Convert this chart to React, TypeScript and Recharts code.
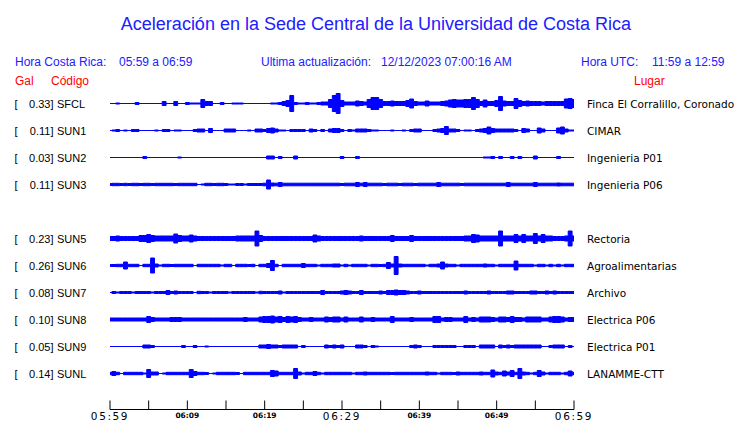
import { Area, ComposedChart, XAxis, YAxis } from "recharts";

// station list, top to bottom
const codes = ["SFCL", "SUN1", "SUN2", "SUN3", "SUN5", "SUN6", "SUN7", "SUN8", "SUN9", "SUNL"];
const peakGal = ["0.33", "0.11", "0.03", "0.11", "0.23", "0.26", "0.08", "0.10", "0.05", "0.14"];
const places = [
  "Finca El Corralillo, Coronado",
  "CIMAR",
  "Ingenieria P01",
  "Ingenieria P06",
  "Rectoria",
  "Agroalimentarias",
  "Archivo",
  "Electrica P06",
  "Electrica P01",
  "LANAMME-CTT",
];
// row slot of each trace (slot 4 is left empty)
const slots = [0, 1, 2, 3, 5, 6, 7, 8, 9, 10];

// envelope half-amplitude of each trace, one value every half minute from 05:59 to 06:59
const sfcl = [
  0, 0, 0.5, 0, 0, 0, 0, 1, 0, 0,
  0, 0, 0, 0, 2, 0, 0, 2, 0, 0,
  1, 0.5, 0.5, 0.5, 4, 2, 2, 0, 0, 1,
  0, 0, 0.5, 0.5, 0.5, 0, 0, 0, 0, 0,
  0, 0, 0.5, 0.5, 1, 2, 3, 8, 1, 0.5,
  0.5, 1, 0.5, 0.5, 1, 1.5, 1.5, 4, 8, 10,
  3, 1.5, 1.5, 1.5, 2.5, 2, 1.5, 4, 6, 6,
  4, 2, 2, 2.5, 2, 2, 2, 3, 4.5, 2,
  1.5, 1.5, 2.5, 1.5, 1.5, 1.5, 2, 2.5, 3.5, 4,
  3.5, 3.5, 4, 4, 6, 4, 2, 3.5, 2, 2,
  3, 7, 2.5, 2, 2, 5, 3, 2, 2.5, 2,
  2, 2, 1.5, 2, 2, 2, 2, 2, 4.5, 5,
  4,
];
const sun1 = [
  0, 0.5, 1, 0, 0.5, 0, 1, 1, 0, 0,
  0, 0, 0.5, 0, 1, 1, 0, 0.5, 0.5, 0,
  0, 0, 1, 1.5, 1.5, 0, 2, 0, 0, 0,
  1.5, 1.5, 1.5, 0, 0, 0, 0.5, 0, 1.5, 1.5,
  1, 2, 2.5, 1.5, 0.5, 0.5, 0, 1, 1, 1,
  1, 0, 1.5, 1, 0, 1, 0, 1.5, 2, 2,
  1, 0, 1, 0.5, 1.5, 1.5, 1.5, 1, 0.5, 0.5,
  0, 0, 0, 0.5, 0, 0, 0.5, 0, 1, 1.5,
  1.5, 0, 0, 0, 1, 1.5, 2, 4, 1.5, 1.5,
  1, 0, 0.5, 0.5, 0, 1, 1.5, 2, 3.5, 2,
  1.5, 1.5, 1.5, 1.5, 1.5, 1, 0, 2, 1.5, 0,
  0, 2.5, 1.5, 0, 0, 0, 2.5, 3.5, 1.5, 0.5,
  0.5,
];
const sun2 = [
  0, 0, 0, 0, 0, 0, 0, 0, 0, 1,
  0, 0, 0, 0, 0, 0, 0, 0, 0.5, 0,
  0, 0, 0, 0, 0, 0, 0, 0, 0, 0,
  0, 0, 0, 0, 0, 0, 0, 0, 0, 0,
  0, 1.5, 1.5, 0, 1, 0, 0, 0, 1.5, 0,
  0, 0, 0, 0, 0, 0, 0, 0, 0, 0,
  1, 0, 0, 0, 1, 0, 0, 0, 0, 0,
  0, 0, 0, 0, 0, 0, 0, 0, 0, 0,
  0, 0, 0, 0, 0, 0, 0, 0, 0, 0,
  0, 0, 0, 0, 0, 0, 0, 0.5, 0.5, 1,
  0, 1, 0, 0, 1, 0, 1, 0, 0, 0,
  1.5, 0, 0, 0, 0, 0, 1, 0, 0, 0,
  0,
];
const sun3 = [
  1, 1.2, 1.2, 1, 1.2, 1, 1.2, 1.2, 1, 1.2,
  1.2, 1, 1.2, 1.2, 1.2, 1.2, 1.2, 1, 1.2, 1.2,
  1.2, 1.2, 1.2, 0, 0.5, 1.2, 1.2, 1, 1.2, 1.2,
  1, 0.5, 0.5, 1, 1, 0.5, 1, 1, 1, 1,
  1.3, 4.5, 1.5, 1.3, 2, 1.3, 1.3, 1.3, 1.3, 1.3,
  1.3, 1.3, 1.3, 1.3, 1.3, 1.3, 1.3, 1.3, 1.3, 1.3,
  1, 1.3, 1.3, 1.3, 2, 1.3, 2, 1.3, 1.3, 1.3,
  1.3, 1, 1.3, 1.3, 1.3, 1, 1.3, 1.3, 1.3, 1,
  1.3, 1.3, 1.3, 1.3, 1.3, 2, 1.3, 1.3, 1.3, 1.3,
  1.3, 1, 1.3, 1.3, 1.3, 1.3, 1.3, 1.3, 1.3, 1.3,
  1.3, 1.3, 1.3, 2, 1.3, 1.3, 1.3, 1.3, 1.3, 1.3,
  2, 1.3, 1.3, 1.3, 1.3, 1.3, 1.5, 1.3, 1.3, 1.3,
  1.3,
];
const sun5 = [
  2, 2, 2.5, 2, 2, 2, 2, 2, 3, 3,
  4, 3, 2.5, 2.5, 2.5, 2.5, 2.5, 4.5, 3, 2.5,
  2.5, 3.5, 2.5, 2, 2, 2, 2, 2, 2, 2,
  2, 2, 2, 2.5, 2.5, 2.5, 2.5, 2.5, 7.5, 3,
  2, 2, 2, 2, 2, 2, 2, 2, 2, 2,
  2, 2, 2, 3.5, 2.5, 2, 2, 2, 2, 2,
  2, 2, 2, 2, 2, 2.5, 2, 2, 2, 2,
  2, 2, 2, 3, 2, 2, 2, 2, 3, 2,
  2, 2, 2, 2, 2, 2, 2, 2, 2, 2,
  2, 2, 2.5, 2.5, 4, 3.5, 2.5, 2.5, 2.5, 2.5,
  2.5, 7.5, 2.5, 2.5, 2.5, 4, 2.5, 4, 2.5, 2.5,
  5, 2.5, 4, 2.5, 2.5, 2, 2, 2, 2.5, 7.5,
  2.5,
];
const sun6 = [
  1, 1, 1.2, 1.2, 3.5, 1.2, 1.2, 1.2, 0, 1.2,
  1.2, 7.5, 1.5, 0.5, 1.2, 1.2, 1, 1.2, 1.2, 1.2,
  1.2, 1.2, 0, 1.2, 1.2, 1.2, 1.2, 1.2, 1.2, 0.5,
  1.2, 1.2, 0, 1.2, 1.2, 1.2, 1, 1.2, 0, 1.2,
  1.2, 2, 5, 1.2, 0, 1.2, 1.2, 1.2, 1.2, 1.2,
  2, 1.2, 1.2, 1.2, 0.5, 1.2, 1.2, 1.2, 1.5, 1.5,
  0.5, 1.2, 0.5, 1.2, 1.2, 1.2, 1.2, 0.5, 1.2, 1.2,
  1, 1.2, 3, 1.5, 9, 1.5, 1.2, 1.2, 1.2, 1.2,
  1.2, 1.2, 0.5, 1.2, 1.2, 1.5, 3.5, 1.5, 1.2, 1.2,
  0.5, 1.2, 1.2, 1.2, 1.2, 1.2, 1.2, 1.5, 1.2, 1.2,
  0.5, 1.2, 1.2, 1.2, 1.2, 4.5, 1.2, 1.2, 1.2, 1.2,
  0.5, 1.2, 1.2, 0.5, 1.2, 0.5, 1.2, 0.5, 1.2, 1.2,
  1.2,
];
const sun7 = [
  0, 1, 0.5, 1, 1, 1, 0.5, 1, 1, 1,
  1, 0.5, 1, 1, 1, 2, 1, 1.5, 1, 1,
  1, 1, 0, 1.2, 1, 1, 0.5, 1, 1, 1,
  1, 0.5, 1, 1, 1, 1, 1, 1, 0.5, 1.2,
  1, 1, 1, 1, 1.5, 0.5, 1, 1, 1, 1,
  1, 1, 1, 1, 1, 2, 1, 1, 1, 1,
  1.5, 2, 1.5, 1, 1, 2, 1, 1, 1, 1,
  1.5, 1, 2, 2, 2.5, 2, 2, 1.5, 1, 1,
  1.5, 1, 1, 1, 1, 1, 1, 1, 1, 1,
  1, 1, 1.5, 1, 1, 1, 1, 1, 1.5, 1,
  1, 1, 1, 1.5, 1.5, 1, 1, 1, 1, 1.5,
  1.5, 1, 1, 1.5, 1, 1.5, 1, 1, 1, 1,
  1,
];
const sun8 = [
  1.5, 1.5, 1.5, 1.5, 1.5, 1.5, 1.5, 1.5, 1.5, 1.5,
  3, 2, 1.5, 1.5, 1.5, 1.5, 2, 2, 2, 1.5,
  1.5, 1.5, 1.5, 1.5, 1.5, 1.5, 1.5, 1.5, 1.5, 1.5,
  1.5, 1.5, 1.5, 1.5, 1.5, 2, 1.5, 1.5, 1.5, 2.5,
  3, 3, 3.5, 2.5, 3, 2, 3, 2.5, 3, 2,
  1.5, 1.5, 2, 1.5, 1.5, 1.5, 2.5, 2, 2.5, 2.5,
  1.5, 2.5, 1.5, 1.5, 1.5, 2.5, 1.5, 1.5, 2, 1.5,
  1.5, 1.5, 1.5, 3, 1.5, 1.5, 1.5, 1.5, 2, 1.5,
  1.5, 1.5, 1.5, 1.5, 3, 3, 1.5, 2, 2, 1.5,
  1.5, 1.5, 3, 1.5, 2, 1.5, 2.5, 2.5, 2.5, 2,
  1.5, 2.5, 2.5, 2, 3, 2, 2, 1.5, 2.5, 2.5,
  2.5, 2.5, 1.5, 1.5, 2.5, 3, 3, 2.5, 1.5, 2,
  2,
];
const sun9 = [
  0, 0, 0, 0, 0, 0, 0, 0, 0, 1.5,
  1.5, 1, 0, 0, 0, 0, 0, 0, 0, 1,
  0, 0, 1, 0, 0, 0.5, 0, 0, 0, 0,
  0, 0, 0, 0, 0, 0, 0, 0, 0, 1.5,
  1.5, 2, 1.5, 1.5, 1, 1.5, 1.5, 1.5, 1.5, 0,
  1, 0, 0, 0, 0, 0, 1.5, 1, 1.5, 1,
  1.5, 0, 0, 0, 1.5, 1.5, 1, 0, 1, 0.5,
  0, 0, 0, 0, 0, 0, 0, 0, 1, 1.5,
  1, 0, 0, 0, 1, 1, 1, 1, 1, 1,
  0, 0, 1, 1, 1, 0, 1.5, 1.5, 1.5, 1.5,
  0, 1.5, 1, 1.5, 1, 1.5, 1.5, 1.5, 1.5, 1.5,
  1.5, 1.5, 0, 0, 1, 1.5, 1.5, 1.5, 0, 1,
  0,
];
const sunl = [
  1.2, 2, 1.2, 0, 1.2, 1.2, 1.2, 1.2, 1.2, 0.5,
  4, 1.5, 1.5, 0, 0.5, 1.2, 1.2, 1.2, 1.2, 1.2,
  1.2, 4, 2, 1.2, 1.2, 1, 0, 0.5, 1.2, 1.2,
  1.2, 1.2, 1.2, 1, 0, 1.2, 1.2, 1.2, 1.2, 1.2,
  1.2, 1.2, 3, 2.5, 1.2, 1.2, 1.2, 1.2, 5, 1.5,
  0.5, 1.2, 1.2, 2, 1.2, 0.5, 1.2, 1.2, 1.2, 1.2,
  1.2, 1.2, 1.2, 0.5, 1.2, 1.2, 1.5, 1.2, 1.2, 1.2,
  1.2, 1.2, 1.2, 1, 1.2, 1.2, 1.2, 1.2, 1.2, 1.2,
  1.2, 1.2, 1.5, 1.2, 1.2, 0.5, 1.2, 1.2, 1.2, 1,
  1.5, 1.2, 1.2, 1.2, 1.2, 1.2, 1.5, 1.2, 1.2, 3.5,
  1.5, 1.2, 2.5, 1.5, 3, 1.2, 5, 1.5, 1.2, 0.5,
  1.2, 3, 1.5, 0.5, 1.2, 1.2, 1.2, 0.5, 1.2, 2.5,
  1.2,
];
const amps = [sfcl, sun1, sun2, sun3, sun5, sun6, sun7, sun8, sun9, sunl];

const STEP_MIN = 0.5;
const timeTicks = [0, 5, 10, 15, 20, 25, 30, 35, 40, 45, 50, 55, 60];
const tickLabels = ["05:59", "", "06:09", "", "06:19", "", "06:29", "", "06:39", "", "06:49", "", "06:59"];
const majorTicks = [0, 30, 60];

// y units are pixels below the top of the plot area
const PLOT_TOP = 88;
const PLOT_H = 321.5;
const ROW0 = 15.5;
const ROW_GAP = 27;

const BLUE = "#0000ff";
const TEXT_BLUE = "#2020ff";

const data = sfcl.map((_, i) => {
  const row: Record<string, number | number[]> = { t: i * STEP_MIN };
  codes.forEach((code, k) => {
    const base = ROW0 + ROW_GAP * slots[k];
    const a = amps[k][i];
    row[code] = [base - a, base + a];
  });
  return row;
});

const TimeTick = ({ x, y, payload }: any) => {
  const idx = timeTicks.indexOf(payload.value);
  const label = tickLabels[idx];
  const major = majorTicks.includes(payload.value);
  return (
    <g>
      <line x1={x} x2={x} y1={y - 9} y2={y} stroke="#000" strokeWidth={1} />
      {label && (
        <text
          x={x}
          y={major ? y + 10.5 : y + 8.5}
          textAnchor="middle"
          fontFamily="DejaVu Sans"
          fontSize={major ? 10.5 : 7.5}
          fontWeight={major ? "normal" : "bold"}
          letterSpacing={major ? 1.6 : 0}
          fill="#000"
        >
          {label}
        </text>
      )}
    </g>
  );
};

const App = () => {
  const rowY = (k: number) => PLOT_TOP + ROW0 + ROW_GAP * slots[k];
  return (
    <div style={{ position: "absolute", left: 0, top: 0, width: 740, height: 423, background: "#fff" }}>
      <ComposedChart
        width={740}
        height={423}
        data={data}
        margin={{ top: PLOT_TOP, right: 166, left: 110, bottom: 0 }}
      >
        <XAxis
          dataKey="t"
          type="number"
          domain={[0, 60]}
          ticks={timeTicks}
          interval={0}
          height={13.5}
          tickSize={0}
          tickMargin={0}
          tick={<TimeTick />}
          axisLine={{ stroke: "#000" }}
          tickLine={false}
        />
        <YAxis type="number" domain={[0, PLOT_H]} reversed hide allowDataOverflow />
        {codes.map((code) => (
          <Area
            key={code}
            dataKey={code}
            type="step"
            stroke={BLUE}
            strokeWidth={1}
            fill={BLUE}
            fillOpacity={1}
            dot={false}
            activeDot={false}
            isAnimationActive={false}
          />
        ))}
      </ComposedChart>
      <svg
        width={740}
        height={423}
        style={{ position: "absolute", left: 0, top: 0, pointerEvents: "none" }}
      >
        <text x={376} y={30} textAnchor="middle" fontFamily="Liberation Sans" fontSize={18} fill={TEXT_BLUE}>
          Aceleración en la Sede Central de la Universidad de Costa Rica
        </text>
        <g fontFamily="Liberation Sans" fontSize={12} fill={TEXT_BLUE}>
          <text x={15} y={65.5}>Hora Costa Rica:</text>
          <text x={119} y={65.5}>05:59 a 06:59</text>
          <text x={261} y={65.5}>Ultima actualización:</text>
          <text x={381} y={65.5}>12/12/2023 07:00:16 AM</text>
          <text x={581} y={65.5}>Hora UTC:</text>
          <text x={652} y={65.5}>11:59 a 12:59</text>
        </g>
        <g fontFamily="Liberation Sans" fontSize={12} fill="#ff0000">
          <text x={15} y={84.5}>Gal</text>
          <text x={51} y={84.5}>Código</text>
          <text x={634} y={84.5}>Lugar</text>
        </g>
        <g fontFamily="Liberation Sans" fontSize={11} fill="#000">
          {codes.map((code, k) => (
            <g key={code}>
              <text x={14.5} y={rowY(k) + 4}>[</text>
              <text x={53.5} y={rowY(k) + 4} textAnchor="end">
                {peakGal[k] + "]"}
              </text>
              <text x={57} y={rowY(k) + 4}>{code}</text>
            </g>
          ))}
        </g>
        <g fontFamily="DejaVu Sans" fontSize={10.5} fill="#000">
          {places.map((p, k) => (
            <text key={p} x={587} y={rowY(k) + 4}>
              {p}
            </text>
          ))}
        </g>
      </svg>
    </div>
  );
};

export default App;
